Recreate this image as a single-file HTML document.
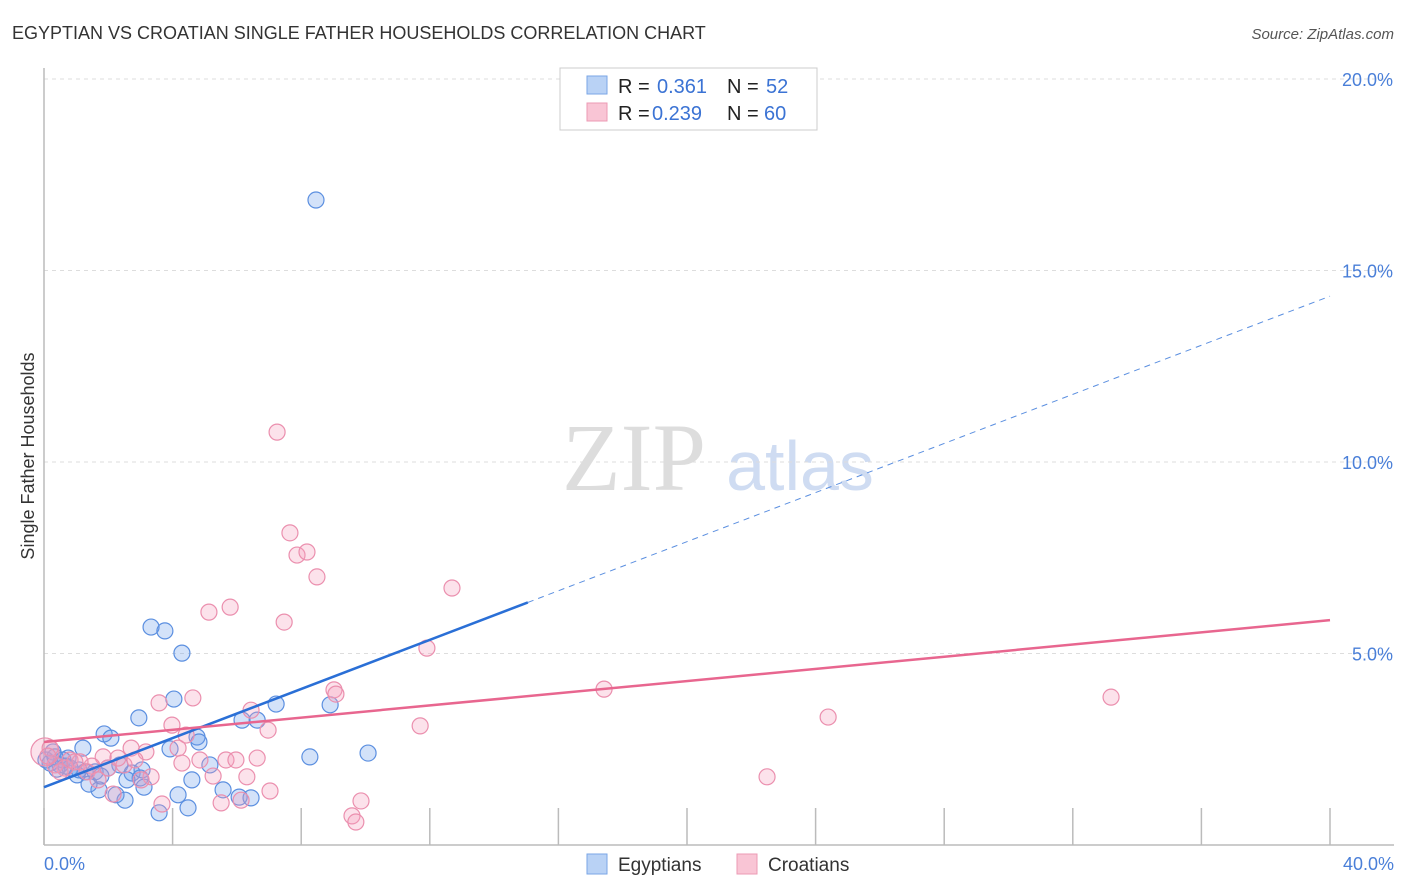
<!DOCTYPE html>
<html><head><meta charset="utf-8"><style>
body{margin:0;background:#fff;font-family:"Liberation Sans",sans-serif;}
svg{display:block}
</style></head><body>
<svg id="chart" width="1406" height="892">
<text x="12" y="39" font-size="18" fill="#333">EGYPTIAN VS CROATIAN SINGLE FATHER HOUSEHOLDS CORRELATION CHART</text>
<text x="1394" y="39" font-size="15" fill="#555" font-style="italic" text-anchor="end">Source: ZipAtlas.com</text>
<text x="634" y="490" font-size="96" fill="#ddd" font-family="Liberation Serif,serif" text-anchor="middle">ZIP</text>
<text x="800" y="490" font-size="70" fill="#cfdcf2" text-anchor="middle">atlas</text>
<g id="grid"></g>
<g id="axes"></g>
<g id="pts"></g>
<g id="lines"></g>
<text transform="translate(34,456) rotate(-90)" font-size="18" fill="#333" text-anchor="middle">Single Father Households</text>
<text x="44" y="870" font-size="18" fill="#4a7fd8">0.0%</text>
<text x="1394" y="870" font-size="18" fill="#4a7fd8" text-anchor="end">40.0%</text>
<g>
<rect x="560" y="68" width="257" height="62" fill="#fff" stroke="#ccc"/>
<rect x="587" y="76" width="20" height="18" fill="#b9d2f5" stroke="#7aa6e6"/>
<rect x="587" y="103" width="20" height="18" fill="#f9c5d5" stroke="#ec9ab4"/>
<text x="618" y="93" font-size="20" fill="#222">R = </text><text x="657" y="93" font-size="20" fill="#3b73d4">0.361</text>
<text x="727" y="93" font-size="20" fill="#222">N = </text><text x="766" y="93" font-size="20" fill="#3b73d4">52</text>
<text x="618" y="120" font-size="20" fill="#222">R = </text><text x="652" y="120" font-size="20" fill="#3b73d4">0.239</text>
<text x="727" y="120" font-size="20" fill="#222">N = </text><text x="764" y="120" font-size="20" fill="#3b73d4">60</text>
</g>
<g>
<rect x="587" y="854" width="20" height="20" fill="#b9d2f5" stroke="#7aa6e6"/>
<text x="618" y="871" font-size="19" fill="#333">Egyptians</text>
<rect x="737" y="854" width="20" height="20" fill="#f9c5d5" stroke="#ec9ab4"/>
<text x="768" y="871" font-size="19" fill="#333">Croatians</text>
</g>
</svg>
<script>
const yTicks=[5,10,15,20];
const yTickLabels=["5.0%","10.0%","15.0%","20.0%"];
const xTicks=[0,4,8,12,16,20,24,28,32,36,40];
const egyptX=[8.46,3.33,3.76,4.29,4.04,2.95,7.22,8.90,6.16,6.63,4.76,4.82,1.87,2.08,3.92,1.21,8.27,10.08,0.28,0.75,0.50,0.19,0.81,1.28,1.03,1.59,2.36,1.99,2.74,2.99,2.58,3.11,1.71,2.24,2.52,3.58,4.17,4.48,5.57,6.07,6.44,4.60,5.16,0.40,0.59,1.40,1.77,3.05,1.09,0.06,0.34,0.68];
const egyptY=[16.84,5.69,5.59,5.01,3.81,3.32,3.68,3.66,3.26,3.26,2.82,2.69,2.90,2.79,2.51,2.53,2.30,2.40,2.43,2.27,2.09,2.14,2.01,1.91,1.83,1.91,2.09,2.01,1.88,1.75,1.70,1.51,1.44,1.31,1.17,0.84,1.31,0.97,1.44,1.25,1.23,1.70,2.09,1.98,2.22,1.59,1.80,1.96,1.96,2.22,2.30,2.06];
const croatX=[7.25,7.65,7.87,8.18,8.49,12.69,5.79,5.13,7.47,11.91,17.42,33.19,24.39,9.02,9.08,4.63,3.58,6.44,3.98,6.97,11.70,4.42,2.71,3.17,4.17,4.85,5.66,5.97,6.63,4.29,5.26,6.31,3.33,3.02,2.49,1.99,1.84,1.49,0.65,0.34,0.03,0.81,2.30,22.49,9.86,9.58,9.70,5.51,6.13,7.03,3.67,2.15,1.12,0.50,1.34,1.68,0.19,0.96,2.83,0.12];
const croatY=[10.78,8.15,7.57,7.65,7.00,6.71,6.21,6.08,5.82,5.14,4.07,3.86,3.34,4.05,3.94,3.84,3.71,3.52,3.13,3.00,3.11,2.87,2.53,2.43,2.53,2.22,2.22,2.22,2.27,2.14,1.80,1.78,1.78,1.70,2.09,2.01,2.30,2.06,2.01,2.09,2.43,2.22,2.27,1.78,1.15,0.76,0.60,1.10,1.17,1.41,1.07,1.33,2.17,1.91,1.91,1.70,2.53,2.17,2.22,2.32];
const egyptTrend=[1.51,14.33];
const croatTrend=[2.69,5.87];
const egyptSolidEnd=15.05;

const NS="http://www.w3.org/2000/svg";
const sx=v=>44+v*(1286/40);
const sy=v=>845-v*38.3;
function mk(tag,parent,attrs){const e=document.createElementNS(NS,tag);for(const k in attrs)e.setAttribute(k,attrs[k]);parent.appendChild(e);return e;}
const grid=document.getElementById('grid'),axes=document.getElementById('axes'),pts=document.getElementById('pts'),lines=document.getElementById('lines');
yTicks.forEach((t,i)=>{
  const l=mk('line',grid,{x1:44,x2:1394,y1:sy(t),y2:sy(t),stroke:'#ddd','stroke-dasharray':'4,4'});
  
  
  const tx=mk('text',grid,{x:1393,y:sy(t)+7,'font-size':18,fill:'#4a7fd8','text-anchor':'end'});
  tx.textContent=yTickLabels[i];
  
  
});
const ya=mk('line',axes,{x1:44,x2:44,y1:68,y2:845,stroke:'#bbb','stroke-width':1.5});


const xa=mk('line',axes,{x1:44,x2:1394,y1:845,y2:845,stroke:'#bbb','stroke-width':1.5});


xTicks.forEach(t=>{
  const l=mk('line',axes,{x1:sx(t),x2:sx(t),y1:808,y2:845,stroke:'#bbb','stroke-width':1.5});
  
  
});
egyptX.forEach((x,i)=>{
  const c=mk('circle',pts,{cx:sx(x),cy:sy(egyptY[i]),r:8,fill:'rgba(110,160,235,0.3)',stroke:'#5b8fe0','stroke-width':1.2});
  
  
});
croatX.forEach((x,i)=>{
  const c=mk('circle',pts,{cx:sx(x),cy:sy(croatY[i]),r:i===40?14:8,fill:'rgba(245,160,190,0.3)',stroke:'#eb8fae','stroke-width':1.2});
  
  
});
const ey=x=>egyptTrend[0]+(egyptTrend[1]-egyptTrend[0])*x/40;
const l1=mk('line',lines,{x1:sx(0),y1:sy(egyptTrend[0]),x2:sx(egyptSolidEnd),y2:sy(ey(egyptSolidEnd)),stroke:'#2a6fd6','stroke-width':2.5});


const l2=mk('line',lines,{x1:sx(egyptSolidEnd),y1:sy(ey(egyptSolidEnd)),x2:sx(40),y2:sy(egyptTrend[1]),stroke:'#5b8fe0','stroke-width':1,'stroke-dasharray':'6,5'});


const l3=mk('line',lines,{x1:sx(0),y1:sy(croatTrend[0]),x2:sx(40),y2:sy(croatTrend[1]),stroke:'#e8668f','stroke-width':2.5});


</script>
</body></html>
